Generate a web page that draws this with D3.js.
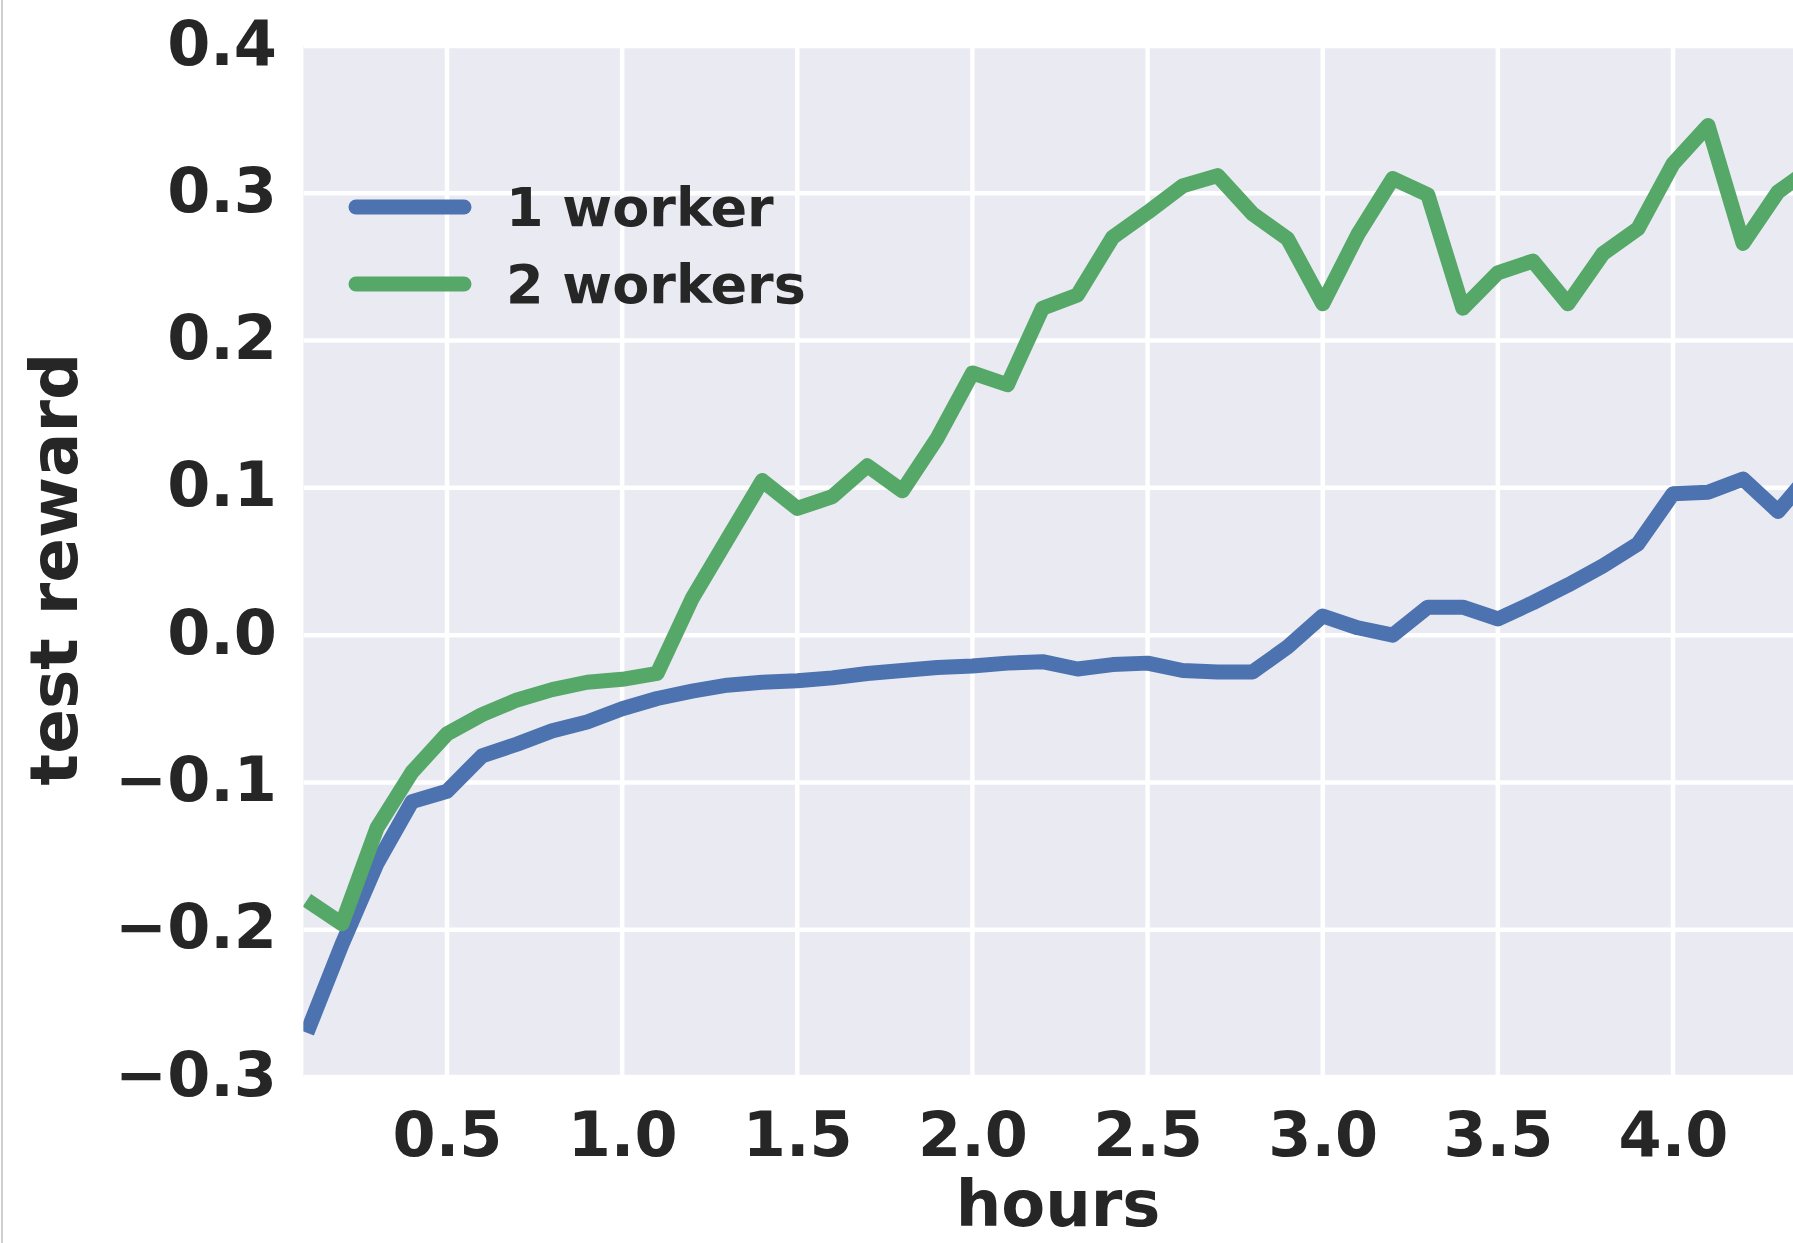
<!DOCTYPE html>
<html>
<head>
<meta charset="utf-8">
<script src="https://cdn.jsdelivr.net/npm/d3@7"></script>
<style>
  body { margin: 0; background: #fff; }
  svg { display: block; }
  text { font-family: "DejaVu Sans", sans-serif; font-weight: bold; fill: #262626; }
</style>
</head>
<body>
<div class="displayArea"></div>
<script>
// data, one point every 0.1 h
var hours = [0.1, 0.2, 0.3, 0.4, 0.5, 0.6, 0.7, 0.8, 0.9, 1.0,
             1.1, 1.2, 1.3, 1.4, 1.5, 1.6, 1.7, 1.8, 1.9, 2.0,
             2.1, 2.2, 2.3, 2.4, 2.5, 2.6, 2.7, 2.8, 2.9, 3.0,
             3.1, 3.2, 3.3, 3.4, 3.5, 3.6, 3.7, 3.8, 3.9, 4.0,
             4.1, 4.2, 4.3, 4.4];

var oneWorker = [-0.270, -0.210, -0.155, -0.113, -0.106, -0.082, -0.074, -0.065, -0.059, -0.050,
                 -0.043, -0.038, -0.034, -0.032, -0.031, -0.029, -0.026, -0.024, -0.022, -0.021,
                 -0.019, -0.018, -0.023, -0.020, -0.019, -0.024, -0.025, -0.025, -0.008, 0.013,
                 0.005, 0.000, 0.019, 0.019, 0.011, 0.022, 0.034, 0.047, 0.062, 0.096,
                 0.097, 0.106, 0.084, 0.112];

var twoWorkers = [-0.180, -0.196, -0.131, -0.093, -0.067, -0.054, -0.044, -0.037, -0.032, -0.030,
                  -0.026, 0.025, 0.065, 0.105, 0.086, 0.094, 0.115, 0.098, 0.134, 0.178,
                  0.170, 0.222, 0.231, 0.270, 0.287, 0.305, 0.312, 0.286, 0.269, 0.225,
                  0.272, 0.310, 0.299, 0.222, 0.246, 0.254, 0.225, 0.259, 0.276, 0.320,
                  0.346, 0.266, 0.301, 0.318];

var seriesNames = ["1 worker", "2 workers"];
var seriesColors = ["#4c72b0", "#55a868"];

var xTicks = [0.5, 1.0, 1.5, 2.0, 2.5, 3.0, 3.5, 4.0];
var yTicks = [-0.3, -0.2, -0.1, 0.0, 0.1, 0.2, 0.3, 0.4];

var width = 1793,
    height = 1243;

var xScale = d3.scaleLinear()
    .domain([0.5, 4.0])
    .range([447, 1673]);

var yScale = d3.scaleLinear()
    .domain([-0.3, 0.4])
    .range([1077, 46]);

var plotLeft = xScale(0.09),
    plotRight = xScale(4.7),
    plotTop = yScale(0.4),
    plotBottom = yScale(-0.3);

var svg = d3.select(".displayArea")
    .append("svg")
    .attr("width", width)
    .attr("height", height);

// thin frame line on the far left of the screenshot
svg.append("line")
    .attr("x1", 2).attr("x2", 2)
    .attr("y1", 0).attr("y2", height)
    .attr("stroke", "#cfcfcf")
    .attr("stroke-width", 2);

svg.append("defs").append("clipPath")
    .attr("id", "plotClip")
    .append("rect")
    .attr("x", plotLeft)
    .attr("y", plotTop)
    .attr("width", plotRight - plotLeft)
    .attr("height", plotBottom - plotTop);

svg.append("rect")
    .attr("x", plotLeft)
    .attr("y", plotTop)
    .attr("width", plotRight - plotLeft)
    .attr("height", plotBottom - plotTop)
    .attr("fill", "#eaeaf2");

// grid lines
var grid = svg.append("g").attr("clip-path", "url(#plotClip)");

grid.selectAll(".vgrid")
    .data(xTicks)
    .enter()
    .append("line")
    .attr("x1", function (d) { return xScale(d); })
    .attr("x2", function (d) { return xScale(d); })
    .attr("y1", plotTop)
    .attr("y2", plotBottom)
    .attr("stroke", "#fff")
    .attr("stroke-width", 4.5);

grid.selectAll(".hgrid")
    .data(yTicks)
    .enter()
    .append("line")
    .attr("x1", plotLeft)
    .attr("x2", plotRight)
    .attr("y1", function (d) { return yScale(d); })
    .attr("y2", function (d) { return yScale(d); })
    .attr("stroke", "#fff")
    .attr("stroke-width", 4.5);

// axes (d3 axes, domain line and tick marks hidden like seaborn)
var xAxis = d3.axisBottom(xScale)
    .tickValues(xTicks)
    .tickSize(0)
    .tickPadding(0)
    .tickFormat(d3.format(".1f"));

var yAxis = d3.axisLeft(yScale)
    .tickValues(yTicks)
    .tickSize(0)
    .tickPadding(0)
    .tickFormat(function (d) { return d3.format(".1f")(d).replace("-", "\u2212"); });

var gx = svg.append("g")
    .attr("transform", "translate(0," + plotBottom + ")")
    .call(xAxis);
gx.select(".domain").remove();
gx.selectAll("text")
    .attr("y", 79)
    .attr("dy", null)
    .style("font-size", "62px")
    .style("font-family", "DejaVu Sans")
    .style("font-weight", "bold")
    .attr("fill", "#262626");

var gy = svg.append("g")
    .attr("transform", "translate(277,0)")
    .call(yAxis);
gy.select(".domain").remove();
gy.selectAll("text")
    .attr("x", 0)
    .attr("dy", 18)
    .style("font-size", "62px")
    .style("font-family", "DejaVu Sans")
    .style("font-weight", "bold")
    .attr("fill", "#262626");

// axis labels
svg.append("text")
    .attr("x", 1058)
    .attr("y", 1226)
    .attr("text-anchor", "middle")
    .style("font-size", "64px")
    .text("hours");

svg.append("text")
    .attr("transform", "translate(77,569) rotate(-90)")
    .attr("text-anchor", "middle")
    .style("font-size", "66px")
    .text("test reward");

// lines
var line = d3.line()
    .x(function (d, i) { return xScale(hours[i]); })
    .y(function (d) { return yScale(d); });

var lines = svg.append("g").attr("clip-path", "url(#plotClip)");

[oneWorker, twoWorkers].forEach(function (vals, k) {
    lines.append("path")
        .datum(vals)
        .attr("d", line)
        .attr("fill", "none")
        .attr("stroke", seriesColors[k])
        .attr("stroke-width", 15)
        .attr("stroke-linejoin", "round");
});

// legend, no frame
var legend = svg.append("g")
    .attr("transform", "translate(348,207)");

var item = legend.selectAll("g")
    .data(seriesNames)
    .enter()
    .append("g")
    .attr("transform", function (d, i) { return "translate(0," + (i * 77) + ")"; });

item.append("line")
    .attr("x1", 8).attr("x2", 116)
    .attr("y1", 0).attr("y2", 0)
    .attr("stroke", function (d, i) { return seriesColors[i]; })
    .attr("stroke-width", 15)
    .attr("stroke-linecap", "round");

item.append("text")
    .attr("x", 158)
    .attr("y", 19)
    .style("font-size", "54px")
    .text(function (d) { return d; });
</script>
</body>
</html>
